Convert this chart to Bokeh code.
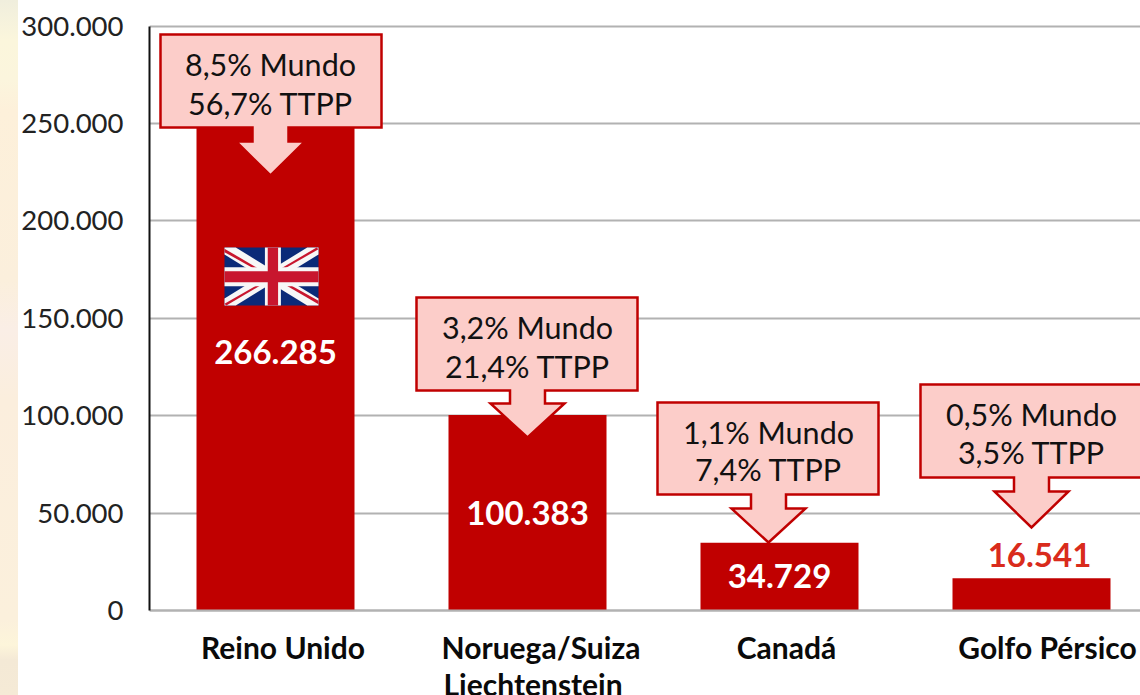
from bokeh.plotting import figure
from bokeh.embed import file_html
from bokeh.resources import INLINE
from bokeh.core.properties import value
from bokeh.models import Range1d, FixedTicker

# ---------- data ----------
categories = ["Reino Unido", "Noruega/Suiza\nLiechtenstein", "Canadá", "Golfo Pérsico"]
exports = [266285, 100383, 34729, 16541]
value_labels = ["266.285", "100.383", "34.729", "16.541"]
share_labels = ["8,5% Mundo\n56,7% TTPP", "3,2% Mundo\n21,4% TTPP",
                "1,1% Mundo\n7,4% TTPP", "0,5% Mundo\n3,5% TTPP"]
y_ticks = [0, 50000, 100000, 150000, 200000, 250000, 300000]
y_tick_labels = ["0", "50.000", "100.000", "150.000", "200.000", "250.000", "300.000"]

# ---------- layout (page pixels) ----------
X0, X1 = 149, 1140
Y0, Y300 = 610, 25.5
TOP = 14
SLOT = 252.0
PX_PER_UNIT = (Y0 - Y300) / 300000.0
RED = "#c00000"
GRID = "#b2b2b2"
PINK = "#fccdc9"
FONT_LIGHT = "Lato"
FONT_BOLD = "Lato"
CAT_SIZE = "30px"


def dx(px):
    return (px - X0) / SLOT


def dy(py):
    return (Y0 - py) / PX_PER_UNIT


p = figure(width=1140, height=695, output_backend="svg", toolbar_location=None,
           x_range=Range1d(0, dx(X1)), y_range=Range1d(dy(695), dy(TOP)),
           min_border_left=X0, min_border_right=0,
           min_border_top=TOP, min_border_bottom=0,
           background_fill_color=None, border_fill_color=None, outline_line_color=None)

centers = [i + 0.5 for i in range(len(categories))]

# ---------- axes ----------
p.yaxis.ticker = FixedTicker(ticks=y_ticks)
p.yaxis.major_label_overrides = dict(zip(y_ticks, y_tick_labels))
p.yaxis.bounds = (0, 300000)
p.yaxis.axis_line_color = "#111111"
p.yaxis.axis_line_width = 2
p.yaxis.major_tick_line_color = None
p.yaxis.minor_tick_line_color = None
p.yaxis.major_tick_out = 0
p.yaxis.major_tick_in = 0
p.yaxis.major_label_standoff = 26
p.yaxis.major_label_text_font = FONT_LIGHT
p.yaxis.major_label_text_font_size = "27.5px"
p.yaxis.major_label_text_color = "#222222"

label_center_px = [282.5, 540.5, 786, 1047]
x_ticks = [dx(v) for v in label_center_px]
first_lines = [c.split("\n")[0] for c in categories]
p.xaxis.fixed_location = 0
p.xaxis.ticker = FixedTicker(ticks=x_ticks)
p.xaxis.major_label_overrides = dict(zip(x_ticks, first_lines))
p.xaxis.axis_line_color = GRID
p.xaxis.axis_line_width = 2
p.xaxis.major_tick_line_color = None
p.xaxis.minor_tick_line_color = None
p.xaxis.major_tick_out = 0
p.xaxis.major_tick_in = 0
p.xaxis.major_label_standoff = 18
p.xaxis.major_label_text_font = FONT_BOLD
p.xaxis.major_label_text_font_style = "bold"
p.xaxis.major_label_text_font_size = CAT_SIZE
p.xaxis.major_label_text_color = "#0a0a0a"

# second line of the two-line category, left-aligned under the first
p.text(x=[dx(443)], y=[dy(683)], text=[categories[1].split("\n")[1]],
       text_font=value(FONT_BOLD), text_font_style="bold", text_font_size=CAT_SIZE,
       text_color="#0a0a0a", text_align="left", text_baseline="middle")

p.xgrid.visible = False
p.ygrid.ticker = FixedTicker(ticks=y_ticks)
p.ygrid.grid_line_color = GRID
p.ygrid.grid_line_width = 2

# ---------- bars ----------
p.vbar(x=centers, top=exports, width=158 / SLOT, color=RED, line_color=None)

# ---------- value labels ----------
label_centers_px = [275, 527, 779, 1039]
label_middles_px = [351.5, 512.5, 575.5, 554.5]
p.text(x=[dx(v) for v in label_centers_px], y=[dy(v) for v in label_middles_px], text=value_labels,
       text_color=["#ffffff", "#ffffff", "#ffffff", "#d92b1c"],
       text_font=value(FONT_BOLD), text_font_style="bold", text_font_size="33px",
       text_align="center", text_baseline="middle")

# ---------- callouts ----------
# box left, box right, box top, box bottom, shaft half width, head y, head half width, tip x, tip y
callouts = [
    (160, 381, 34, 127, 18, 141, 34.5, 270, 175),
    (416, 637, 297, 390, 17.5, 403, 37, 527, 437),
    (657, 878, 402, 494, 17.5, 508, 37, 768, 542),
    (920, 1160, 384, 477, 17.5, 491, 37, 1031, 527),
]
text_middles_px = [(63, 102), (326, 365), (431, 468), (413, 451)]
for c, lines, txt in zip(callouts, text_middles_px, share_labels):
    l, r, t, b, sh, hy, hh, tx, ty = c
    xs = [l, r, r, tx + sh, tx + sh, tx + hh, tx, tx - hh, tx - sh, tx - sh, l, l]
    ys = [t, t, b, b, hy, hy, ty, hy, hy, b, b, t]
    p.patch([dx(v) for v in xs], [dy(v) for v in ys], fill_color=PINK, line_color=RED,
            line_width=2.5, line_join="miter")
    p.text(x=[dx(tx)] * 2, y=[dy(v) for v in lines], text=txt.split("\n"),
           text_font=value(FONT_LIGHT), text_font_size="30.5px", text_color="#111111",
           text_align="center", text_baseline="middle")


# ---------- flag ----------
FL, FR, FT, FB = 224, 318, 247, 305
W, H = FR - FL, FB - FT


def flag_patch(pts, color):
    p.patch([dx(FL + a * W) for a, _ in pts], [dy(FT + b * H) for _, b in pts],
            fill_color=color, line_color=None)


NAVY, WHITE, CROSS = "#0b2a78", "#f7f7f7", "#c8162e"
flag_patch([(0, 0), (1, 0), (1, 1), (0, 1)], NAVY)
t = 0.12
for pts in ([(0, 0), (t, 0), (1, 1 - t), (1, 1), (1 - t, 1), (0, t)],
            [(1, 0), (1, t), (t, 1), (0, 1), (0, 1 - t), (1 - t, 0)]):
    flag_patch(pts, WHITE)
for pts in ([(0, 0.02), (0.42, 0.42), (0.42, 0.46), (0, 0.08)],
            [(0.98, 0), (0.56, 0.40), (0.60, 0.40), (1, 0.03)],
            [(1, 0.98), (0.58, 0.58), (0.58, 0.54), (1, 0.92)],
            [(0.02, 1), (0.44, 0.60), (0.40, 0.60), (0, 0.97)]):
    flag_patch(pts, CROSS)
flag_patch([(0.43, 0), (0.60, 0), (0.60, 0.34), (1, 0.34), (1, 0.67), (0.60, 0.67), (0.60, 1), (0.43, 1),
            (0.43, 0.67), (0, 0.67), (0, 0.34), (0.43, 0.34)], WHITE)
flag_patch([(0.46, 0), (0.57, 0), (0.57, 0.41), (1, 0.41), (1, 0.60), (0.57, 0.60), (0.57, 1), (0.46, 1),
            (0.46, 0.60), (0, 0.60), (0, 0.41), (0.46, 0.41)], CROSS)

# ---------- cream strip behind the page ----------
style = """<style>
html, body { background-color: #ffffff; }
body {
  background-image: linear-gradient(to bottom, #f0eedd 0px, #fbf6dc 40px, #fbf5dd 80px, #fdf0da 110px, #fbefdc 280px,
    #faeee6 330px, #fbeedd 400px, #fbf0dc 620px, #fdf5da 645px, #f4e9d6 660px, #f5ead6 695px);
  background-size: 18px 695px;
  background-repeat: no-repeat;
}
</style>"""

html = file_html(p, INLINE)
open("out.html", "w").write(html.replace("</head>", style + "</head>", 1))
